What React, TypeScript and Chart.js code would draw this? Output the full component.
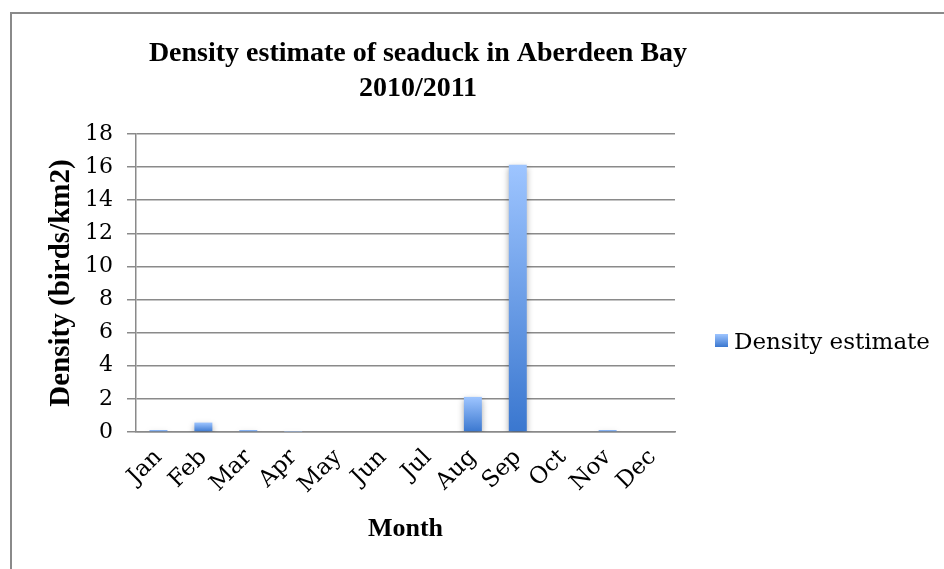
import React, { useEffect, useRef } from "react";
import { Chart, registerables } from "chart.js";

Chart.register(...registerables);

// ---- data ----
const TITLE_LINES = ["Density estimate of seaduck in Aberdeen Bay", "2010/2011"];
const MONTHS = ["Jan", "Feb", "Mar", "Apr", "May", "Jun", "Jul", "Aug", "Sep", "Oct", "Nov", "Dec"];
const DENSITY = [0.12, 0.57, 0.12, 0.02, 0, 0, 0, 2.12, 16.15, 0, 0.12, 0];
const SERIES_LABEL = "Density estimate";
const X_TITLE = "Month";
const Y_TITLE = "Density (birds/km2)";
const Y_MIN = 0;
const Y_MAX = 18;
const Y_STEP = 2;

// ---- style ----
const W = 944;
const H = 569;
const SERIF = '"DejaVu Serif", serif';
const SERIF_BOLD = '"Liberation Serif", "DejaVu Serif", serif';
const LINE = "#8a8a8a";
const BAR_TOP = "#9ec5ff";
const BAR_BOTTOM = "#3a77cf";

function verticalGradient(ctx: CanvasRenderingContext2D, top: number, bottom: number) {
  const g = ctx.createLinearGradient(0, top, 0, Math.max(bottom, top + 1));
  g.addColorStop(0, BAR_TOP);
  g.addColorStop(1, BAR_BOTTOM);
  return g;
}

// Frame, heading and series key
const decorPlugin = {
  id: "decor",
  beforeDraw(chart: any) {
    const { ctx } = chart;
    ctx.save();
    ctx.fillStyle = "#ffffff";
    ctx.fillRect(0, 0, W, H);
    ctx.strokeStyle = LINE;
    ctx.lineWidth = 2;
    ctx.strokeRect(11, 13, W + 20, H + 20);
    ctx.restore();
  },
  afterDraw(chart: any) {
    const { ctx } = chart;
    ctx.save();
    ctx.fillStyle = "#000000";
    ctx.textAlign = "center";
    ctx.textBaseline = "alphabetic";
    ctx.font = `bold 28px ${SERIF_BOLD}`;
    const baselines = [61, 96];
    TITLE_LINES.forEach((line, i) => ctx.fillText(line, 418, baselines[i]));

    // series key
    const sx = 715;
    const sy = 334;
    const size = 13;
    ctx.fillStyle = verticalGradient(ctx, sy, sy + size);
    ctx.fillRect(sx, sy, size, size);
    ctx.fillStyle = "#000000";
    ctx.textAlign = "left";
    ctx.font = `23px ${SERIF}`;
    ctx.fillText(chart.data.datasets[0].label, 734, 349);
    ctx.restore();
  },
};

// Soft drop shadow under the bars
const shadowPlugin = {
  id: "barShadow",
  beforeDatasetsDraw(chart: any) {
    const { ctx } = chart;
    ctx.save();
    ctx.shadowColor = "rgba(0,0,0,0.35)";
    ctx.shadowBlur = 6;
    ctx.shadowOffsetX = 0;
    ctx.shadowOffsetY = 3;
  },
  afterDatasetsDraw(chart: any) {
    chart.ctx.restore();
  },
};

export default function App() {
  const canvasRef = useRef<HTMLCanvasElement | null>(null);

  useEffect(() => {
    const canvas = canvasRef.current;
    if (!canvas) return;
    const chart = new Chart(canvas, {
      type: "bar",
      data: {
        labels: MONTHS,
        datasets: [
          {
            label: SERIES_LABEL,
            data: DENSITY,
            barPercentage: 0.4,
            categoryPercentage: 1,
            borderWidth: 0,
            backgroundColor: (c: any) => {
              const ch = c.chart;
              if (!ch.chartArea || c.type !== "data") return BAR_BOTTOM;
              const y = ch.scales.y;
              const top = y.getPixelForValue(c.raw as number);
              const base = y.getPixelForValue(0);
              return verticalGradient(ch.ctx, top, base);
            },
          },
        ],
      },
      options: {
        responsive: false,
        animation: false,
        devicePixelRatio: 1,
        layout: { padding: { top: 134, right: 269, bottom: 0, left: 0 } },
        plugins: {
          legend: { display: false },
          title: { display: false },
          tooltip: { enabled: false },
        },
        scales: {
          x: {
            grid: { display: false, drawTicks: false },
            border: { display: true, color: LINE, width: 1.5 },
            ticks: {
              autoSkip: false,
              maxRotation: 45,
              minRotation: 45,
              padding: 12,
              color: "#000000",
              font: { family: SERIF, size: 23 },
            },
            title: {
              display: true,
              text: X_TITLE,
              color: "#000000",
              font: { family: SERIF_BOLD, size: 26, weight: "bold" },
              padding: { top: 0, bottom: 24 },
            },
            afterFit: (s: any) => {
              s.height = 137;
            },
          },
          y: {
            min: Y_MIN,
            max: Y_MAX,
            ticks: {
              stepSize: Y_STEP,
              padding: 14,
              color: "#000000",
              font: { family: SERIF, size: 22 },
            },
            grid: { color: LINE, lineWidth: 1.5, tickLength: 9, drawTicks: true },
            border: { display: true, color: LINE, width: 1.5 },
            title: {
              display: true,
              text: Y_TITLE,
              color: "#000000",
              font: { family: SERIF_BOLD, size: 29, weight: "bold" },
              padding: { top: 44, bottom: 0 },
            },
            afterFit: (s: any) => {
              s.width = 136;
            },
          },
        },
      },
      plugins: [decorPlugin, shadowPlugin],
    });
    return () => chart.destroy();
  }, []);

  return (
    <div style={{ position: "absolute", left: 0, top: 0, width: W, height: H, background: "#fff" }}>
      <canvas ref={canvasRef} width={W} height={H} style={{ display: "block" }} />
    </div>
  );
}
